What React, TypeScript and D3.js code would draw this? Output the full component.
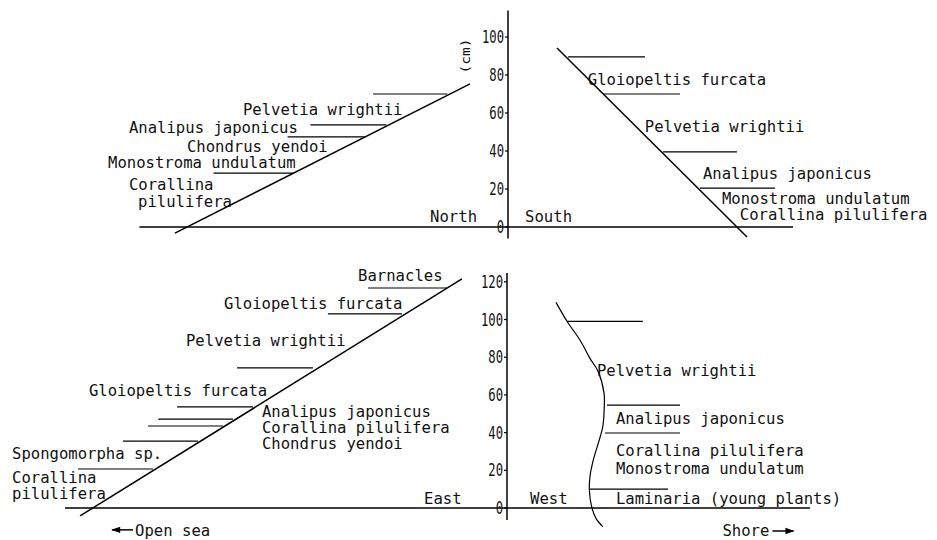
import React from "react";
import * as d3 from "d3";

// ---------- Data (d = horizontal distance from the axis in cm, h = height in cm) ----------
const TOP_TICKS = [0, 20, 40, 60, 80, 100];
const BOTTOM_TICKS = [0, 20, 40, 60, 80, 100, 120];

const topAxisExtent = [-6, 114];
const topBaseline = [-194, 150];
const northSlope = [{ d: -175.3, h: -3.2 }, { d: -20, h: 75.3 }];
const northBars = [
  { h: 70, from: -71, to: -32 },
  { h: 53.7, from: -104, to: -64 },
  { h: 47.4, from: -116, to: -75 },
  { h: 28.4, from: -155, to: -113 },
];
const northLabels = [
  { text: "Pelvetia wrightii", d: -139.5, h: 58.9 },
  { text: "Analipus japonicus", d: -199.5, h: 49.5 },
  { text: "Chondrus yendoi", d: -169, h: 39.5 },
  { text: "Monostroma undulatum", d: -210.5, h: 31 },
  { text: "Corallina", d: -199.5, h: 19.5 },
  { text: "pilulifera", d: -194.7, h: 10.5 },
  { text: "North", d: -41, h: 2.6 },
];
const southSlope = [{ d: 25.8, h: 94.2 }, { d: 125.8, h: -5.3 }];
const southBars = [
  { h: 89.5, from: 31.6, to: 72.1 },
  { h: 70, from: 50, to: 90.5 },
  { h: 39.5, from: 81.6, to: 120.5 },
  { h: 20.5, from: 101, to: 140.5 },
];
const southLabels = [
  { text: "South", d: 9, h: 2.6 },
  { text: "Gloiopeltis furcata", d: 42, h: 74.7 },
  { text: "Pelvetia wrightii", d: 72, h: 50 },
  { text: "Analipus japonicus", d: 102.6, h: 25.3 },
  { text: "Monostroma undulatum", d: 112.6, h: 12.1 },
  { text: "Corallina pilulifera", d: 122, h: 3.7 },
];

const bottomAxisExtent = [-6.4, 124.7];
const bottomBaseline = [-234.5, 160.7];
const eastSlope = [{ d: -226.5, h: -4.2 }, { d: -23.9, h: 121.5 }];
const eastBars = [
  { h: 116.7, from: -73.7, to: -31.8 },
  { h: 103, from: -95, to: -55.7 },
  { h: 74.3, from: -143.2, to: -102.9 },
  { h: 53.6, from: -175, to: -134.7 },
  { h: 47.2, from: -185, to: -145.4 },
  { h: 43.5, from: -190.4, to: -150.7 },
  { h: 35.5, from: -203.7, to: -164 },
  { h: 20.7, from: -227.6, to: -187.8 },
];
const eastLabels = [
  { text: "Barnacles", d: -79, h: 120.4 },
  { text: "Gloiopeltis furcata", d: -150.1, h: 105.6 },
  { text: "Pelvetia wrightii", d: -170.3, h: 85.9 },
  { text: "Gloiopeltis furcata", d: -221.8, h: 59.4 },
  { text: "Analipus japonicus", d: -130, h: 48.3 },
  { text: "Corallina pilulifera", d: -130, h: 39.8 },
  { text: "Chondrus yendoi", d: -130, h: 31.3 },
  { text: "Spongomorpha sp.", d: -262.6, h: 26 },
  { text: "Corallina", d: -262.6, h: 13.3 },
  { text: "pilulifera", d: -262.6, h: 4.8 },
  { text: "East", d: -44, h: 2.1 },
  { text: "Open sea", d: -197.3, h: -14.6 },
];
const westProfile = [
  { d: 26.0, h: 109.1 },
  { d: 32.0, h: 98.8 },
  { d: 38.7, h: 89.1 },
  { d: 44.0, h: 79.4 },
  { d: 48.4, h: 72.3 },
  { d: 51.5, h: 60.8 },
  { d: 51.6, h: 53.7 },
  { d: 50.8, h: 43.1 },
  { d: 48.4, h: 34.3 },
  { d: 45.8, h: 25.5 },
  { d: 44.0, h: 16.6 },
  { d: 43.7, h: 9.5 },
  { d: 44.9, h: 0.7 },
  { d: 47.2, h: -5.5 },
  { d: 50.8, h: -9.9 },
];
const westBars = [
  { h: 99, from: 31.8, to: 72.1 },
  { h: 54.6, from: 53, to: 91.8 },
  { h: 39.8, from: 52, to: 91.8 },
  { h: 10, from: 44, to: 85.4 },
];
const westLabels = [
  { text: "West", d: 12.2, h: 2.1 },
  { text: "Pelvetia wrightii", d: 47.7, h: 70 },
  { text: "Analipus japonicus", d: 57.8, h: 44.6 },
  { text: "Corallina pilulifera", d: 57.8, h: 27.4 },
  { text: "Monostroma undulatum", d: 57.8, h: 18.3 },
  { text: "Laminaria (young plants)", d: 57.8, h: 2.1 },
  { text: "Shore", d: 114.3, h: -15 },
];
const directionArrows = [
  { from: -198.4, to: -209.5, h: -11.6 },
  { from: 140.8, to: 152, h: -12.2 },
];

// ---------- Styling ----------
const FONT = "'DejaVu Sans Mono', 'Liberation Mono', monospace";
const INK = "#111";

type Sx = d3.ScaleLinear<number, number>;

function Label({ x, y, text, size = 15.6 }: { x: number; y: number; text: string; size?: number }) {
  return (
    <text
      transform={`translate(${x},${y}) scale(1,1.06)`}
      fontFamily={FONT}
      fontSize={size}
      fill={INK}
    >
      {text}
    </text>
  );
}

function Axis({ xs, ys, ticks, extent }: { xs: Sx; ys: Sx; ticks: number[]; extent: number[] }) {
  const x0 = xs(0);
  return (
    <g>
      <line x1={x0} x2={x0} y1={ys(extent[0])} y2={ys(extent[1])} stroke="#000" strokeWidth={1.5} />
      {ticks.map((t) => (
        <g key={t}>
          <line x1={x0 - 3} x2={x0} y1={ys(t)} y2={ys(t)} stroke="#000" strokeWidth={1.2} />
          <text
            transform={`translate(${x0 - 4},${ys(t) + 6}) scale(1,1.4)`}
            textAnchor="end"
            fontFamily={FONT}
            fontSize={12.2}
            fill={INK}
          >
            {t}
          </text>
        </g>
      ))}
    </g>
  );
}

function Bars({ xs, ys, bars }: { xs: Sx; ys: Sx; bars: { h: number; from: number; to: number }[] }) {
  return (
    <g>
      {bars.map((b, i) => (
        <line key={i} x1={xs(b.from)} x2={xs(b.to)} y1={ys(b.h)} y2={ys(b.h)} stroke="#000" strokeWidth={1.2} />
      ))}
    </g>
  );
}

function Labels({ xs, ys, labels }: { xs: Sx; ys: Sx; labels: { text: string; d: number; h: number }[] }) {
  return (
    <g>
      {labels.map((l, i) => (
        <Label key={i} x={xs(l.d)} y={ys(l.h)} text={l.text} />
      ))}
    </g>
  );
}

export default function App() {
  const topX = d3.scaleLinear().domain([0, 100]).range([508, 698]);
  const topY = d3.scaleLinear().domain([0, 100]).range([227, 37]);
  const botX = d3.scaleLinear().domain([0, 100]).range([507, 695.5]);
  const botY = d3.scaleLinear().domain([0, 120]).range([508, 281.8]);

  const seg = (xs: Sx, ys: Sx) =>
    d3.line<{ d: number; h: number }>().x((p) => xs(p.d)).y((p) => ys(p.h));
  const curve = (xs: Sx, ys: Sx) =>
    d3
      .line<{ d: number; h: number }>()
      .x((p) => xs(p.d))
      .y((p) => ys(p.h))
      .curve(d3.curveCatmullRom.alpha(0.5));

  return (
    <svg
      width={937}
      height={540}
      viewBox="0 0 937 540"
      style={{ position: "absolute", left: 0, top: 0, background: "#fff" }}
    >
      <defs>
        <marker id="ah" viewBox="0 0 10 10" refX={9} refY={5} markerWidth={7} markerHeight={6} orient="auto">
          <path d="M0,1.5 L10,5 L0,8.5 Z" fill="#000" />
        </marker>
      </defs>
      <rect width={937} height={540} fill="#fff" />

      {/* ---------- Top panel: North / South ---------- */}
      <line
        x1={topX(topBaseline[0])}
        x2={topX(topBaseline[1])}
        y1={topY(0)}
        y2={topY(0)}
        stroke="#000"
        strokeWidth={1.5}
      />
      <Axis xs={topX} ys={topY} ticks={TOP_TICKS} extent={topAxisExtent} />
      <text
        transform={`translate(${topX(0) - 38},${topY(90)}) rotate(-90) scale(1.12,1)`}
        textAnchor="middle"
        fontFamily={FONT}
        fontSize={13}
        fill={INK}
      >
        (cm)
      </text>
      <path d={seg(topX, topY)(northSlope) || ""} fill="none" stroke="#000" strokeWidth={1.5} />
      <path d={seg(topX, topY)(southSlope) || ""} fill="none" stroke="#000" strokeWidth={1.5} />
      <Bars xs={topX} ys={topY} bars={northBars} />
      <Bars xs={topX} ys={topY} bars={southBars} />
      <Labels xs={topX} ys={topY} labels={northLabels} />
      <Labels xs={topX} ys={topY} labels={southLabels} />

      {/* ---------- Bottom panel: East / West ---------- */}
      <line
        x1={botX(bottomBaseline[0])}
        x2={botX(bottomBaseline[1])}
        y1={botY(0)}
        y2={botY(0)}
        stroke="#000"
        strokeWidth={1.5}
      />
      <Axis xs={botX} ys={botY} ticks={BOTTOM_TICKS} extent={bottomAxisExtent} />
      <path d={seg(botX, botY)(eastSlope) || ""} fill="none" stroke="#000" strokeWidth={1.5} />
      <path d={curve(botX, botY)(westProfile) || ""} fill="none" stroke="#000" strokeWidth={1.2} />
      <Bars xs={botX} ys={botY} bars={eastBars} />
      <Bars xs={botX} ys={botY} bars={westBars} />
      <Labels xs={botX} ys={botY} labels={eastLabels} />
      <Labels xs={botX} ys={botY} labels={westLabels} />
      {directionArrows.map((a, i) => (
        <line
          key={i}
          x1={botX(a.from)}
          x2={botX(a.to)}
          y1={botY(a.h)}
          y2={botY(a.h)}
          stroke="#000"
          strokeWidth={1.5}
          markerEnd="url(#ah)"
        />
      ))}
    </svg>
  );
}
